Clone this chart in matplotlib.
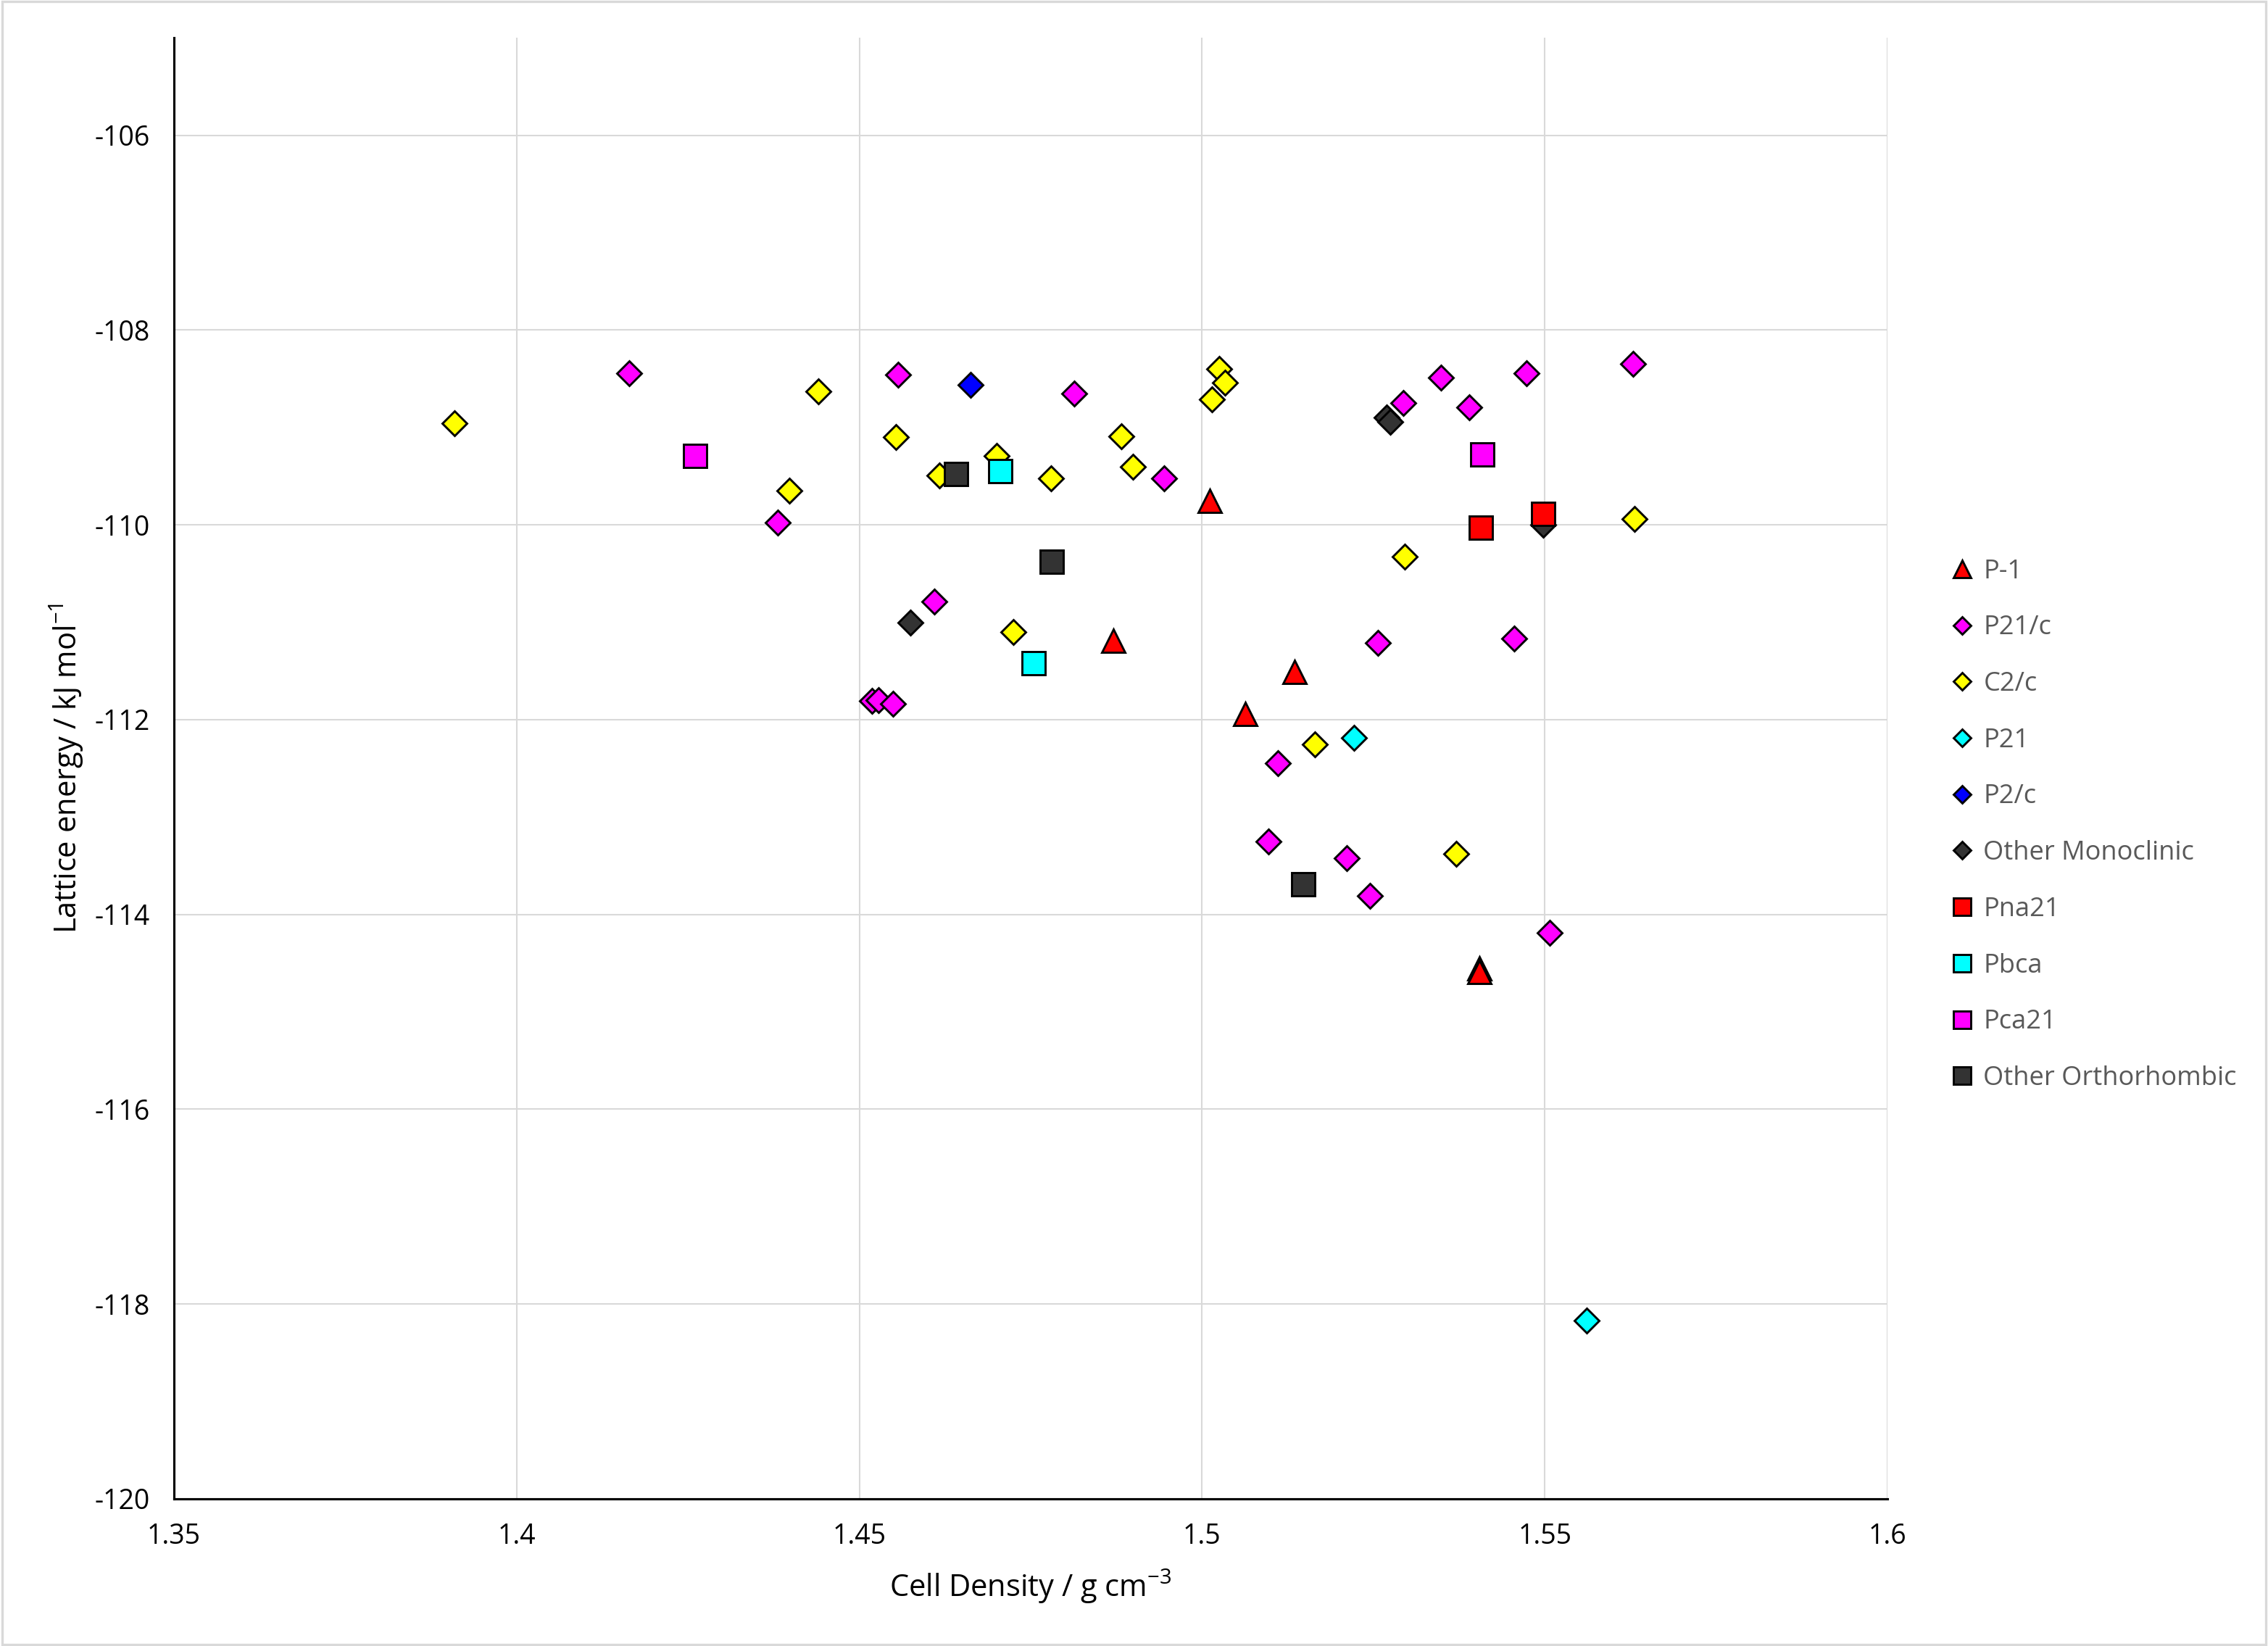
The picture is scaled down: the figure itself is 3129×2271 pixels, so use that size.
import matplotlib
matplotlib.use("Agg")
import matplotlib.pyplot as plt
from matplotlib.patches import Rectangle

plt.rcParams['font.family'] = ['Open Sans', 'DejaVu Sans']
plt.rcParams['mathtext.default'] = 'regular'
plt.rcParams['axes.unicode_minus'] = False

# space groups: x = cell density, y = lattice energy
p1_x = [1.5011, 1.4871, 1.5135, 1.5063, 1.5405, 1.5405]
p1_y = [-109.75, -111.19, -111.51, -111.94, -114.55, -114.59]

p21c_x = [1.4164, 1.4557, 1.4814, 1.4381, 1.4609, 1.4518, 1.4528, 1.4549,
          1.5349, 1.5473, 1.5629, 1.5294, 1.5390, 1.4945, 1.5257, 1.5455,
          1.5111, 1.5097, 1.5211, 1.5245, 1.5507]
p21c_y = [-108.44, -108.46, -108.65, -109.98, -110.79, -111.81, -111.80, -111.84,
          -108.49, -108.44, -108.35, -108.75, -108.79, -109.52, -111.21, -111.17,
          -112.45, -113.25, -113.42, -113.81, -114.19]

c2c_x = [1.3909, 1.4440, 1.4882, 1.4553, 1.4700, 1.4617, 1.4780, 1.4398, 1.4725,
         1.5025, 1.5033, 1.5014, 1.4899, 1.5631, 1.5296, 1.5165, 1.5371]
c2c_y = [-108.96, -108.63, -109.09, -109.10, -109.29, -109.49, -109.52, -109.65, -111.10,
         -108.40, -108.54, -108.71, -109.40, -109.94, -110.33, -112.25, -113.38]

p21_x = [1.5222, 1.5561]
p21_y = [-112.19, -118.17]

p2c_x = [1.4662]
p2c_y = [-108.56]

omono_x = [1.4574, 1.5269, 1.5275, 1.5498]
omono_y = [-111.00, -108.90, -108.94, -110.00]

pna21_x = [1.5407, 1.5498]
pna21_y = [-110.03, -109.89]

pbca_x = [1.4706, 1.4754]
pbca_y = [-109.45, -111.42]

pca21_x = [1.4260, 1.5409]
pca21_y = [-109.29, -109.28]

oortho_x = [1.4641, 1.4781, 1.5148]
oortho_y = [-109.48, -110.38, -113.69]

series = [
    ("P-1", p1_x, p1_y, "^", "#FF0000", 7.9),
    ("P21/c", p21c_x, p21c_y, "D", "#FF00FF", 5.8),
    ("C2/c", c2c_x, c2c_y, "D", "#FFFF00", 5.8),
    ("P21", p21_x, p21_y, "D", "#00FFFF", 5.8),
    ("P2/c", p2c_x, p2c_y, "D", "#0000FF", 5.8),
    ("Other Monoclinic", omono_x, omono_y, "D", "#333333", 5.8),
    ("Pna21", pna21_x, pna21_y, "s", "#FF0000", 7.9),
    ("Pbca", pbca_x, pbca_y, "s", "#00FFFF", 7.9),
    ("Pca21", pca21_x, pca21_y, "s", "#FF00FF", 7.9),
    ("Other Orthorhombic", oortho_x, oortho_y, "s", "#333333", 7.9),
]

fig = plt.figure(figsize=(10.43, 7.57), dpi=300)
ax = fig.add_axes([0.0767, 0.0894, 0.7555, 0.8876])

handles = []
for name, xs, ys, mk, col, ms in series:
    h, = ax.plot(xs, ys, linestyle='none', marker=mk, markersize=ms,
                 markerfacecolor=col, markeredgecolor='black',
                 markeredgewidth=0.7, label=name, zorder=3)
    handles.append(h)

ax.set_xlim(1.35, 1.6)
ax.set_ylim(-120, -105)
ax.set_xticks([1.35, 1.4, 1.45, 1.5, 1.55, 1.6])
ax.set_xticklabels(["1.35", "1.4", "1.45", "1.5", "1.55", "1.6"])
ax.set_yticks(range(-120, -105, 2))
ax.grid(True, color='#D9D9D9', linewidth=0.5, zorder=0)
ax.set_axisbelow(True)

for s in ['top', 'right']:
    ax.spines[s].set_visible(False)
ax.spines['left'].set_linewidth(0.75)
ax.spines['bottom'].set_linewidth(0.75)
ax.tick_params(axis='both', length=0, labelsize=9, pad=8, colors='black')

ax.set_xlabel("Cell Density / g cm$^{-3}$", fontsize=10, labelpad=6)
ax.set_ylabel("Lattice energy / kJ mol$^{-1}$", fontsize=10, labelpad=3)

fig.legend(handles=handles, loc='upper left', bbox_to_anchor=(0.856, 0.667),
           frameon=False, fontsize=8.7, labelcolor='#595959', markerscale=0.7,
           handlelength=0.8, handletextpad=0.4, labelspacing=1.15,
           borderaxespad=0)

fig.patches.append(Rectangle((0.001, 0.001), 0.998, 0.998, transform=fig.transFigure,
                             fill=False, edgecolor='#D9D9D9', linewidth=0.8))

fig.savefig("out.png", dpi=300)
